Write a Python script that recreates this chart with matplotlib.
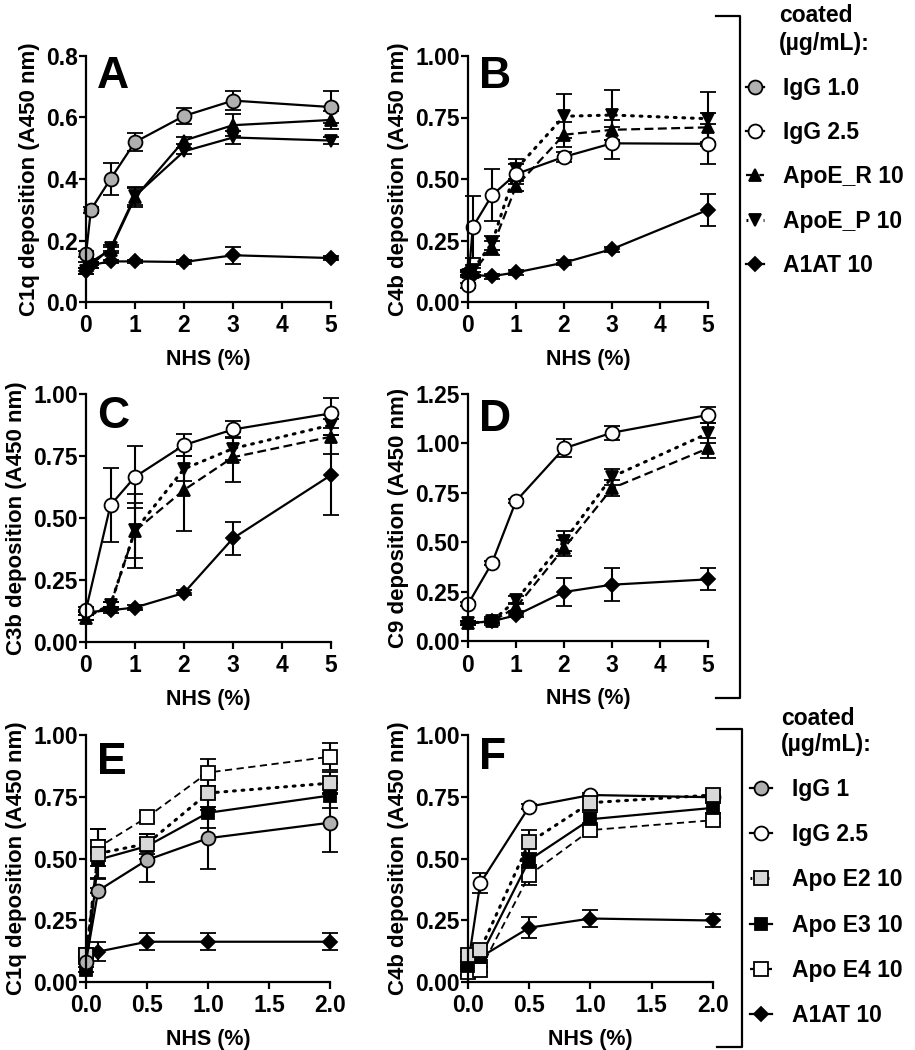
import numpy as np
import matplotlib
matplotlib.use("Agg")
import matplotlib.pyplot as plt
from matplotlib.lines import Line2D

plt.rcParams['font.family'] = ['Liberation Sans', 'DejaVu Sans']
plt.rcParams['font.weight'] = 'bold'
plt.rcParams['axes.labelweight'] = 'bold'

# ---- data ----
x_ab = [0, 0.1, 0.5, 1, 2, 3, 5]
x_cd = [0, 0.5, 1, 2, 3, 5]
x_ef = [0, 0.1, 0.5, 1, 2]

# A: C1q
igg10_A = [0.155, 0.30, 0.40, 0.52, 0.605, 0.655, 0.634]
igg10_A_err = [0.01, 0.01, 0.053, 0.03, 0.025, 0.032, 0.053]
apoR_A = [0.12, 0.13, 0.17, 0.34, 0.525, 0.575, 0.592]
apoR_A_err = [0.01, 0.01, 0.01, 0.03, 0.01, 0.035, 0.03]
apoP_A = [0.10, 0.12, 0.175, 0.345, 0.49, 0.535, 0.525]
apoP_A_err = [0.01, 0.01, 0.01, 0.03, 0.01, 0.02, 0.01]
a1at_A = [0.10, 0.12, 0.132, 0.132, 0.13, 0.152, 0.143]
a1at_A_err = [0.01, 0.01, 0.005, 0.005, 0.005, 0.028, 0.005]

# B: C4b
igg25_B = [0.068, 0.305, 0.434, 0.52, 0.59, 0.645, 0.643]
igg25_B_err = [0.01, 0.125, 0.105, 0.04, 0.02, 0.065, 0.08]
apoR_B = [0.12, 0.12, 0.22, 0.47, 0.68, 0.70, 0.71]
apoR_B_err = [0.01, 0.02, 0.03, 0.02, 0.05, 0.04, 0.06]
apoP_B = [0.11, 0.13, 0.24, 0.54, 0.755, 0.76, 0.745]
apoP_B_err = [0.01, 0.02, 0.03, 0.04, 0.09, 0.10, 0.11]
a1at_B = [0.12, 0.11, 0.105, 0.12, 0.16, 0.215, 0.375]
a1at_B_err = [0.01, 0.01, 0.01, 0.01, 0.01, 0.01, 0.065]

# C: C3b
igg25_C = [0.13, 0.552, 0.666, 0.794, 0.857, 0.922]
igg25_C_err = [0.01, 0.15, 0.125, 0.045, 0.035, 0.06]
apoR_C = [0.097, 0.15, 0.448, 0.613, 0.745, 0.828]
apoR_C_err = [0.01, 0.01, 0.15, 0.165, 0.10, 0.07]
apoP_C = [0.10, 0.15, 0.45, 0.698, 0.78, 0.875]
apoP_C_err = [0.01, 0.01, 0.11, 0.05, 0.045, 0.04]
a1at_C = [0.12, 0.128, 0.139, 0.198, 0.418, 0.673]
a1at_C_err = [0.01, 0.01, 0.01, 0.01, 0.066, 0.16]

# D: C9
igg25_D = [0.186, 0.395, 0.708, 0.975, 1.054, 1.144]
igg25_D_err = [0.01, 0.01, 0.01, 0.045, 0.035, 0.04]
apoR_D = [0.09, 0.10, 0.17, 0.47, 0.773, 0.975]
apoR_D_err = [0.01, 0.01, 0.02, 0.04, 0.04, 0.05]
apoP_D = [0.09, 0.10, 0.206, 0.505, 0.831, 1.051]
apoP_D_err = [0.01, 0.02, 0.02, 0.05, 0.04, 0.05]
a1at_D = [0.09, 0.10, 0.13, 0.248, 0.285, 0.312]
a1at_D_err = [0.01, 0.01, 0.01, 0.07, 0.085, 0.055]

# E: C1q
igg1_E = [0.082, 0.37, 0.494, 0.582, 0.645]
igg1_E_err = [0.01, 0.01, 0.088, 0.125, 0.12]
apoE2_E = [0.11, 0.52, 0.56, 0.765, 0.805]
apoE2_E_err = [0.01, 0.10, 0.04, 0.07, 0.045]
apoE3_E = [0.05, 0.495, 0.55, 0.685, 0.755]
apoE3_E_err = [0.01, 0.08, 0.05, 0.06, 0.05]
apoE4_E = [0.11, 0.545, 0.667, 0.848, 0.912]
apoE4_E_err = [0.01, 0.075, 0.02, 0.055, 0.055]
a1at_E = [0.10, 0.123, 0.163, 0.163, 0.163]
a1at_E_err = [0.01, 0.04, 0.035, 0.035, 0.035]

# F: C4b
igg25_F = [0.07, 0.40, 0.71, 0.757, 0.748]
igg25_F_err = [0.01, 0.04, 0.01, 0.01, 0.01]
apoE2_F = [0.11, 0.13, 0.565, 0.726, 0.757]
apoE2_F_err = [0.01, 0.02, 0.05, 0.03, 0.02]
apoE3_F = [0.065, 0.10, 0.494, 0.659, 0.705]
apoE3_F_err = [0.01, 0.02, 0.03, 0.03, 0.02]
apoE4_F = [0.04, 0.05, 0.433, 0.615, 0.655]
apoE4_F_err = [0.01, 0.01, 0.04, 0.02, 0.01]
a1at_F = [0.08, 0.10, 0.22, 0.257, 0.249]
a1at_F_err = [0.01, 0.01, 0.042, 0.035, 0.025]

legend1_labels = ["IgG 1.0", "IgG 2.5", "ApoE_R 10", "ApoE_P 10", "A1AT 10"]
legend2_labels = ["IgG 1", "IgG 2.5", "Apo E2 10", "Apo E3 10", "Apo E4 10", "A1AT 10"]

# ---- styles ----
GRAY = '#b0b0b0'
LGRAY = '#d8d8d8'
DASH = (0, (4, 2))
DOT = (0, (0.6, 2.2))
FDASH = (0, (4, 2.5))
st = {
    'igg1': dict(marker='o', mfc=GRAY, ms=10, ls='-'),
    'igg25': dict(marker='o', mfc='white', ms=10, ls='-'),
    'apoR': dict(marker='^', mfc='k', ms=9, ls=DASH),
    'apoP': dict(marker='v', mfc='k', ms=9, ls=DOT),
    'a1at': dict(marker='D', mfc='k', ms=7.5, ls='-'),
    'e2': dict(marker='s', mfc=LGRAY, ms=10, ls=DOT),
    'e3': dict(marker='s', mfc='k', ms=9, ls='-'),
    'e4': dict(marker='s', mfc='white', ms=10, ls=FDASH),
}

FS = 16.5
W, H = 915, 1050
fig = plt.figure(figsize=(W / 100, H / 100), dpi=100)


def rect(l, t, r, b):
    return [l / W, 1 - b / H, (r - l) / W, (b - t) / H]


def series(ax, x, y, e, key, ls=None, lw=None):
    s = dict(st[key])
    if ls is not None:
        s['ls'] = ls
    line_w = lw if lw is not None else (2.2 if s['ls'] == DOT else 1.6)
    ax.errorbar(x, y, yerr=e, color='k', ecolor='k', elinewidth=1.5, capsize=6,
                capthick=1.5, mec='k', mew=1.3, lw=line_w, clip_on=False,
                dash_capstyle='round' if s['ls'] == DOT else 'butt', **s)


def style(ax, ylim, yticks, yfmt, xlim, xticks, xfmt, ylabel, letter, ly):
    ax.set_xlim(*xlim)
    ax.set_ylim(*ylim)
    ax.set_yticks(yticks)
    ax.set_yticklabels([yfmt.format(v) for v in yticks])
    ax.set_xticks(xticks)
    ax.set_xticklabels([xfmt.format(v) for v in xticks])
    for sp in ['top', 'right']:
        ax.spines[sp].set_visible(False)
    for sp in ['left', 'bottom']:
        ax.spines[sp].set_linewidth(1.6)
    ax.tick_params(width=1.6, length=5, labelsize=FS, pad=1)
    ax.tick_params(axis='x', pad=4)
    ax.set_ylabel(ylabel, fontsize=16, labelpad=4)
    ax.set_xlabel("NHS (%)", fontsize=15.5, labelpad=8)
    ax.text(0.045, ly, letter, transform=ax.transAxes, fontsize=32,
            fontweight='bold', ha='left', va='top')


yl = "deposition (A450 nm)"

# A
ax = fig.add_axes(rect(86, 56, 331, 302))
series(ax, x_ab, a1at_A, a1at_A_err, 'a1at')
series(ax, x_ab, apoP_A, apoP_A_err, 'apoP', ls='-')
series(ax, x_ab, apoR_A, apoR_A_err, 'apoR', ls='-')
series(ax, x_ab, igg10_A, igg10_A_err, 'igg1')
style(ax, (0, 0.8), np.arange(0, 0.81, 0.2), "{:.1f}", (0, 5), range(6), "{:d}",
      "C1q " + yl, "A", 1.0)

# B
ax = fig.add_axes(rect(468, 56, 708, 302))
series(ax, x_ab, a1at_B, a1at_B_err, 'a1at')
series(ax, x_ab, apoP_B, apoP_B_err, 'apoP')
series(ax, x_ab, apoR_B, apoR_B_err, 'apoR')
series(ax, x_ab, igg25_B, igg25_B_err, 'igg25')
style(ax, (0, 1), np.arange(0, 1.01, 0.25), "{:.2f}", (0, 5), range(6), "{:d}",
      "C4b " + yl, "B", 1.0)

# C
ax = fig.add_axes(rect(86, 394, 331, 642))
series(ax, x_cd, a1at_C, a1at_C_err, 'a1at')
series(ax, x_cd, apoP_C, apoP_C_err, 'apoP')
series(ax, x_cd, apoR_C, apoR_C_err, 'apoR')
series(ax, x_cd, igg25_C, igg25_C_err, 'igg25')
style(ax, (0, 1), np.arange(0, 1.01, 0.25), "{:.2f}", (0, 5), range(6), "{:d}",
      "C3b " + yl, "C", 0.99)

# D
ax = fig.add_axes(rect(468, 394, 708, 641))
series(ax, x_cd, a1at_D, a1at_D_err, 'a1at')
series(ax, x_cd, apoP_D, apoP_D_err, 'apoP')
series(ax, x_cd, apoR_D, apoR_D_err, 'apoR')
series(ax, x_cd, igg25_D, igg25_D_err, 'igg25')
style(ax, (0, 1.25), np.arange(0, 1.26, 0.25), "{:.2f}", (0, 5), range(6), "{:d}",
      "C9 " + yl, "D", 0.98)

# E
ax = fig.add_axes(rect(86, 735, 330, 982))
series(ax, x_ef, a1at_E, a1at_E_err, 'a1at')
series(ax, x_ef, apoE4_E, apoE4_E_err, 'e4', lw=1.3)
series(ax, x_ef, apoE3_E, apoE3_E_err, 'e3')
series(ax, x_ef, apoE2_E, apoE2_E_err, 'e2')
series(ax, x_ef, igg1_E, igg1_E_err, 'igg1')
style(ax, (0, 1), np.arange(0, 1.01, 0.25), "{:.2f}", (0, 2), np.arange(0, 2.01, 0.5),
      "{:.1f}", "C1q " + yl, "E", 0.97)

# F
ax = fig.add_axes(rect(468, 735, 713, 982))
series(ax, x_ef, a1at_F, a1at_F_err, 'a1at')
series(ax, x_ef, igg25_F, igg25_F_err, 'igg25')
series(ax, x_ef, apoE4_F, apoE4_F_err, 'e4', lw=1.3)
series(ax, x_ef, apoE3_F, apoE3_F_err, 'e3')
series(ax, x_ef, apoE2_F, apoE2_F_err, 'e2')
style(ax, (0, 1), np.arange(0, 1.01, 0.25), "{:.2f}", (0, 2), np.arange(0, 2.01, 0.5),
      "{:.1f}", "C4b " + yl, "F", 0.99)


# ---- legends ----
def handle(key, ls=None):
    s = dict(st[key])
    if ls is not None:
        s['ls'] = ls
    return Line2D([], [], color='k', mec='k', mew=1.3,
                  lw=2.2 if s['ls'] == DOT else 1.6, **s)


h1 = [handle('igg1'), handle('igg25'), handle('apoR'), handle('apoP'), handle('a1at')]
leg1 = fig.legend(h1, legend1_labels, loc='upper left', bbox_to_anchor=(746 / W, 1 - 4 / H),
                  frameon=False, fontsize=FS, title="coated\n(µg/mL):",
                  title_fontproperties={'size': FS, 'weight': 'bold'},
                  handlelength=0.8, handletextpad=0.8, labelspacing=0.93,
                  borderpad=0, borderaxespad=0, alignment='center')
leg1.get_title().set_linespacing(1.3)

h2 = [handle('igg1'), handle('igg25'), handle('e2'), handle('e3'), handle('e4'), handle('a1at')]
leg2 = fig.legend(h2, legend2_labels, loc='upper left', bbox_to_anchor=(750 / W, 1 - 707 / H),
                  frameon=False, fontsize=FS, title="coated\n(µg/mL):",
                  title_fontproperties={'size': FS, 'weight': 'bold'},
                  handlelength=0.95, handletextpad=0.9, labelspacing=0.97,
                  borderpad=0, borderaxespad=0, alignment='center')
leg2.get_title().set_linespacing(1.15)


# brackets
def bracket(x, y0, y1, xs):
    xs_f, x_f = xs / W, x / W
    fig.add_artist(Line2D([xs_f, x_f, x_f, xs_f], [1 - y0 / H, 1 - y0 / H, 1 - y1 / H, 1 - y1 / H],
                          color='k', lw=1.6, transform=fig.transFigure))


bracket(740, 16, 698, 716)
bracket(742, 729, 1047, 717)

fig.savefig("out.png", dpi=100)
